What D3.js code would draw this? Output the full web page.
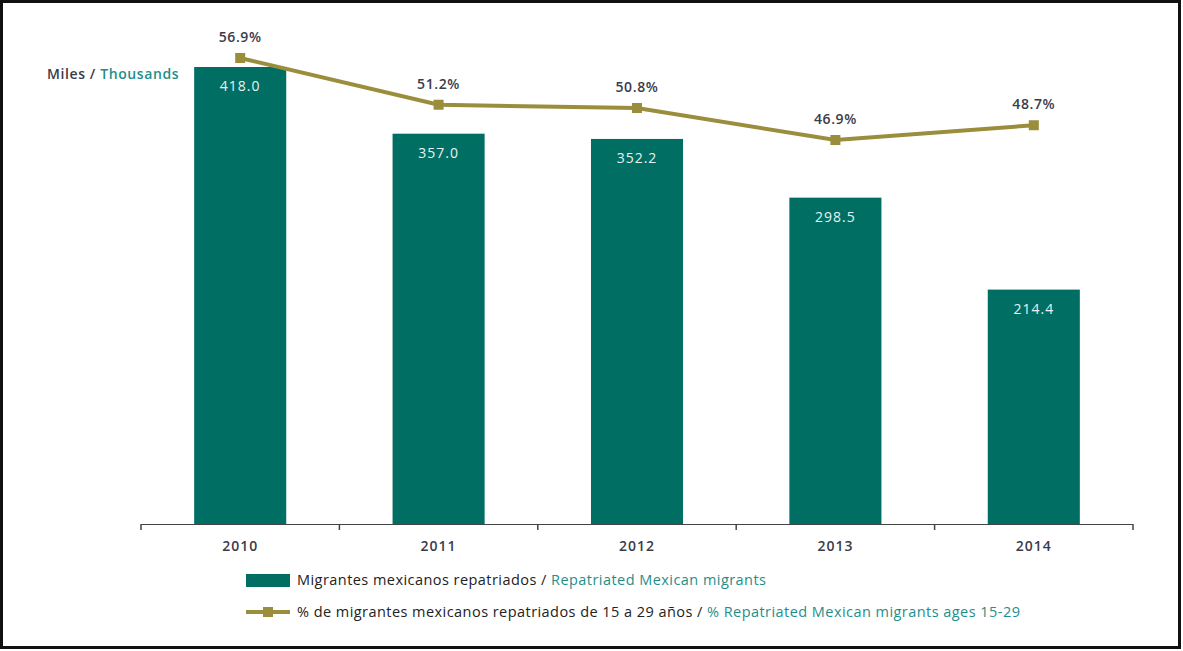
<!DOCTYPE html>
<html>
<head>
<meta charset="utf-8">
<script src="https://cdn.jsdelivr.net/npm/d3@7"></script>
<style>
  body { margin: 0; background: #fff; }
  svg { display: block; font-family: "Open Sans", "Noto Sans", sans-serif; }
</style>
</head>
<body>
<div id="chart"></div>
<script>
// Data
const years = ["2010", "2011", "2012", "2013", "2014"];
const repatriados = [418.0, 357.0, 352.2, 298.5, 214.4];
const pctJovenes = [56.9, 51.2, 50.8, 46.9, 48.7];

const width = 1183;
const height = 651;

const barColor = "#016e64";
const lineColor = "#9a8e3c";
const darkText = "#3b3b4a";
const tealText = "#1f8e8a";

const svg = d3.select("#chart")
    .append("svg")
    .attr("width", width)
    .attr("height", height);

// frame
svg.append("rect")
    .attr("x", 1.5).attr("y", 1.5)
    .attr("width", 1178).attr("height", 646)
    .attr("fill", "none")
    .attr("stroke", "#111")
    .attr("stroke-width", 3);

// Scales
const x = d3.scaleBand()
    .domain(years)
    .range([141, 1133])
    .paddingInner(0.536)
    .paddingOuter(0.268);

const y = d3.scaleLinear()
    .domain([0, 450])
    .range([524, 524 - 450 * 1.0933]);

const y2 = d3.scaleLinear()
    .domain([40, 60])
    .range([58 + 16.9 * 8.2, 58 - 3.1 * 8.2]);

// Bars
svg.selectAll(".bar")
    .data(repatriados)
    .enter().append("rect")
    .attr("class", "bar")
    .attr("x", (d, i) => x(years[i]))
    .attr("y", d => y(d))
    .attr("width", x.bandwidth())
    .attr("height", d => y(0) - y(d))
    .attr("fill", barColor);

// Bar labels
svg.selectAll(".barLabel")
    .data(repatriados)
    .enter().append("text")
    .attr("class", "barLabel")
    .attr("x", (d, i) => x(years[i]) + x.bandwidth() / 2)
    .attr("y", d => y(d) + 24)
    .attr("text-anchor", "middle")
    .attr("fill", "#e8f2f0")
    .style("font-size", "14px")
    .style("letter-spacing", "1px")
    .text(d => d.toFixed(1));

// Axis: baseline with ticks at band edges
const axisG = svg.append("g");
axisG.append("line")
    .attr("x1", 141).attr("x2", 1133)
    .attr("y1", y(0) + 0.5).attr("y2", y(0) + 0.5)
    .attr("stroke", "#444").attr("stroke-width", 1.2);

const edges = years.map(d => x(d) - x.step() * x.paddingInner() / 2);
edges.push(1133);
edges[0] = 141;
axisG.selectAll(".tick")
    .data(edges)
    .enter().append("line")
    .attr("x1", d => d).attr("x2", d => d)
    .attr("y1", y(0)).attr("y2", y(0) + 6)
    .attr("stroke", "#444").attr("stroke-width", 1.5);

axisG.selectAll(".yearLabel")
    .data(years)
    .enter().append("text")
    .attr("x", d => x(d) + x.bandwidth() / 2)
    .attr("y", 551)
    .attr("text-anchor", "middle")
    .attr("fill", darkText)
    .style("font-size", "14px")
    .style("font-weight", "600")
    .style("letter-spacing", "1px")
    .text(d => d);

// Line
const cx = i => x(years[i]) + x.bandwidth() / 2;
const line = d3.line()
    .x((d, i) => cx(i))
    .y(d => y2(d));

svg.append("path")
    .datum(pctJovenes)
    .attr("d", line)
    .attr("fill", "none")
    .attr("stroke", lineColor)
    .attr("stroke-width", 4);

svg.selectAll(".marker")
    .data(pctJovenes)
    .enter().append("rect")
    .attr("x", (d, i) => cx(i) - 5)
    .attr("y", d => y2(d) - 5)
    .attr("width", 10).attr("height", 10)
    .attr("fill", lineColor);

svg.selectAll(".pctLabel")
    .data(pctJovenes)
    .enter().append("text")
    .attr("x", (d, i) => cx(i))
    .attr("y", d => y2(d) - 16)
    .attr("text-anchor", "middle")
    .attr("fill", darkText)
    .style("font-size", "14px")
    .style("font-weight", "600")
    .style("letter-spacing", "0.6px")
    .text(d => d.toFixed(1) + "%");

// Unit label
const unit = svg.append("text")
    .attr("x", 47).attr("y", 79)
    .style("font-size", "14px")
    .style("font-weight", "600")
    .style("letter-spacing", "0.6px");
unit.append("tspan").attr("fill", darkText).text("Miles / ");
unit.append("tspan").attr("fill", tealText).text("Thousands");

// Legend
const legend = svg.append("g")
    .style("font-size", "14.5px")
    .style("letter-spacing", "0.45px");
legend.append("rect")
    .attr("x", 246).attr("y", 574)
    .attr("width", 44).attr("height", 13)
    .attr("fill", barColor);
const t1 = legend.append("text")
    .attr("x", 297).attr("y", 585);
t1.append("tspan").attr("fill", "#222").text("Migrantes mexicanos repatriados / ");
t1.append("tspan").attr("fill", tealText).text("Repatriated Mexican migrants");

legend.append("line")
    .attr("x1", 246).attr("x2", 290)
    .attr("y1", 612).attr("y2", 612)
    .attr("stroke", lineColor).attr("stroke-width", 4);
legend.append("rect")
    .attr("x", 263).attr("y", 607)
    .attr("width", 10).attr("height", 10)
    .attr("fill", lineColor);
const t2 = legend.append("text")
    .attr("x", 297).attr("y", 617);
t2.append("tspan").attr("fill", "#222").text("% de migrantes mexicanos repatriados de 15 a 29 años / ");
t2.append("tspan").attr("fill", tealText).text("% Repatriated Mexican migrants ages 15-29");
</script>
</body>
</html>
